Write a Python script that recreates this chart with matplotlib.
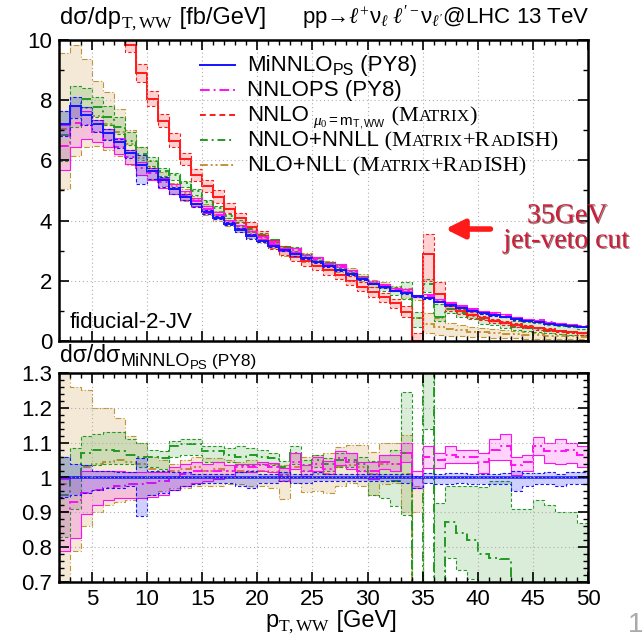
import numpy as np
import matplotlib
matplotlib.use("Agg")
import matplotlib.pyplot as plt
import matplotlib.patheffects as pe
from matplotlib.lines import Line2D
from matplotlib.ticker import MultipleLocator, FuncFormatter

plt.rcParams["font.family"] = ["Liberation Sans", "DejaVu Sans"]
plt.rcParams["mathtext.fontset"] = "custom"
plt.rcParams["mathtext.rm"] = "Liberation Serif"
plt.rcParams["mathtext.it"] = "Liberation Serif:italic"
plt.rcParams["mathtext.bf"] = "Liberation Serif:bold"
plt.rcParams["mathtext.sf"] = "Liberation Sans"

# 1 GeV bins, pT from 2 to 50 GeV
bin_edges = np.arange(2, 51)

# MiNNLO_PS (PY8) central value, fb/GeV
minnlo_xs = [7.2, 7.8, 7.5, 7.2, 6.9, 6.6, 6.25, 5.85, 5.65, 5.35,
             5.05, 4.8, 4.55, 4.3, 4.1, 3.9, 3.7, 3.5, 3.33, 3.17,
             3.02, 2.88, 2.75, 2.62, 2.49, 2.36, 2.22, 2.05, 1.9, 1.78,
             1.67, 1.58, 1.5, 1.42, 1.31, 1.2, 1.1, 1.01, 0.93, 0.86,
             0.8, 0.74, 0.68, 0.63, 0.58, 0.54, 0.5, 0.46]

# ratios to MiNNLO_PS central value (scale band low / central / high)
minnlo_lo = [0.945, 0.95, 0.955, 0.965, 0.97, 0.97, 0.975, 0.89, 0.95, 0.955,
             0.965, 0.975, 0.98, 0.985, 0.985, 0.985, 0.975, 0.97, 0.985, 0.985,
             0.99, 0.985, 0.985, 0.99, 0.99, 0.99, 0.99, 0.99, 0.99, 0.99,
             0.99, 0.985, 0.97, 0.985, 0.98, 0.98, 0.985, 0.98, 0.98, 0.98,
             0.98, 0.96, 0.975, 0.98, 0.98, 0.975, 0.98, 0.98]
minnlo_hi = [1.06, 1.04, 1.035, 1.02, 1.02, 1.015, 1.015, 1.055, 1.02, 1.02,
             1.015, 1.015, 1.01, 1.01, 1.01, 1.01, 1.015, 1.02, 1.01, 1.01,
             1.015, 1.01, 1.01, 1.015, 1.01, 1.01, 1.01, 1.01, 1.01, 1.01,
             1.01, 1.01, 1.005, 1.012, 1.01, 1.012, 1.012, 1.01, 1.01, 1.01,
             1.012, 1.02, 1.012, 1.012, 1.015, 1.01, 1.015, 1.015]

nnlops_lo = [0.79, 0.825, 0.895, 0.92, 0.935, 0.94, 0.94, 0.94, 0.945, 0.95,
             0.965, 0.975, 0.985, 0.99, 0.995, 1.0, 1.015, 1.015, 1.02, 1.015,
             0.99, 1.025, 1.005, 1.02, 1.01, 1.035, 1.025, 1.0, 0.995, 1.025,
             1.02, 1.045, 0.97, 1.027, 1.027, 1.042, 1.042, 1.042, 1.013, 1.05,
             1.05, 1.008, 1.02, 1.065, 1.042, 1.04, 1.042, 1.03]
nnlops_mid = [0.9, 0.93, 0.955, 0.965, 0.97, 0.975, 0.98, 0.98, 0.985, 0.99,
              1.0, 1.01, 1.02, 1.02, 1.02, 1.02, 1.03, 1.03, 1.035, 1.03,
              1.005, 1.045, 1.02, 1.04, 1.025, 1.055, 1.045, 1.02, 1.02, 1.045,
              1.04, 1.07, 1.0, 1.06, 1.05, 1.065, 1.06, 1.06, 1.045, 1.08,
              1.09, 1.035, 1.045, 1.09, 1.075, 1.075, 1.08, 1.065]
nnlops_hi = [0.995, 1.0, 1.02, 1.02, 1.02, 1.02, 1.015, 1.015, 1.015, 1.015,
             1.03, 1.04, 1.045, 1.04, 1.045, 1.035, 1.04, 1.04, 1.045, 1.043,
             1.026, 1.07, 1.036, 1.06, 1.047, 1.077, 1.07, 1.045, 1.045, 1.064,
             1.064, 1.1, 1.02, 1.09, 1.07, 1.09, 1.08, 1.08, 1.07, 1.11,
             1.126, 1.06, 1.065, 1.115, 1.1, 1.11, 1.1, 1.09]

nnll_lo = [0.83, 0.91, 1.035, 1.035, 1.04, 1.04, 1.04, 1.03, 1.03, 1.025,
           1.06, 1.065, 1.065, 1.045, 1.045, 1.045, 1.035, 1.035, 1.04, 1.035,
           1.01, 1.04, 1.02, 1.03, 1.02, 1.03, 1.03, 1.02, 0.95, 0.94,
           0.917, 0.893, 0.3, 1.14, 0.5, 0.77, 0.735, 0.71, 0.6, 0.6,
           0.55, 0.5, 0.5, 0.45, 0.45, 0.45, 0.4, 0.4]
nnll_mid = [0.95, 1.0, 1.07, 1.08, 1.08, 1.075, 1.065, 1.06, 1.06, 1.055,
            1.09, 1.095, 1.095, 1.075, 1.075, 1.065, 1.06, 1.065, 1.06, 1.055,
            1.03, 1.07, 1.035, 1.05, 1.04, 1.05, 1.05, 1.04, 1.0, 1.0,
            0.99, 1.07, 0.5, 1.33, 0.6, 0.873, 0.84, 0.82, 0.78, 0.77,
            0.765, 0.65, 0.65, 0.62, 0.6, 0.6, 0.58, 0.56]
nnll_hi = [1.06, 1.085, 1.12, 1.125, 1.13, 1.13, 1.11, 1.1, 1.08, 1.075,
           1.105, 1.11, 1.11, 1.09, 1.09, 1.085, 1.09, 1.085, 1.08, 1.07,
           1.047, 1.09, 1.05, 1.065, 1.055, 1.07, 1.07, 1.06, 1.047, 1.064,
           1.08, 1.246, 0.65, 1.45, 0.926, 0.975, 0.975, 0.975, 0.972, 0.99,
           0.99, 0.91, 0.91, 0.935, 0.92, 0.9, 0.9, 0.87]

nll_lo = [0.70, 0.79, 0.86, 0.90, 0.92, 0.93, 0.935, 0.94, 0.95, 0.96,
          0.97, 0.97, 0.975, 0.975, 0.975, 0.98, 0.98, 0.975, 0.975, 0.97,
          0.937, 0.985, 0.958, 0.96, 0.955, 0.975, 0.985, 0.975, 0.95, 0.98,
          0.985, 0.9, 0.9, 0.19, 0.15, 0.14, 0.14, 0.14, 0.14, 0.13,
          0.13, 0.12, 0.12, 0.12, 0.12, 0.11, 0.11, 0.11]
nll_mid = [0.98, 1.0, 1.03, 1.04, 1.045, 1.05, 1.045, 1.04, 1.025, 1.02,
           1.02, 1.025, 1.03, 1.02, 1.025, 1.02, 1.02, 1.02, 1.02, 1.015,
           0.99, 1.03, 1.0, 1.01, 1.01, 1.03, 1.035, 1.03, 1.01, 1.04,
           1.04, 1.01, 0.5, 0.39, 0.36, 0.33, 0.32, 0.31, 0.32, 0.31,
           0.31, 0.3, 0.3, 0.3, 0.3, 0.3, 0.3, 0.3]
nll_hi = [1.33, 1.26, 1.25, 1.2, 1.2, 1.17, 1.12, 1.1, 1.06, 1.05,
          1.04, 1.05, 1.06, 1.055, 1.055, 1.05, 1.045, 1.05, 1.045, 1.04,
          1.035, 1.07, 1.06, 1.065, 1.07, 1.088, 1.093, 1.093, 1.074, 1.098,
          1.098, 1.122, 0.975, 0.65, 0.58, 0.5, 0.47, 0.46, 0.46, 0.45,
          0.45, 0.44, 0.44, 0.44, 0.43, 0.43, 0.43, 0.43]

# NNLO (MATRIX), absolute values in fb/GeV (only in the upper panel)
nnlo_lo = [13.5, 13.5, 13.0, 12.0, 11.0, 10.2, 9.6, 8.6, 7.8, 7.1,
           6.45, 5.85, 5.3, 4.95, 4.6, 4.25, 3.95, 3.65, 3.35, 3.05,
           2.85, 2.65, 2.5, 2.35, 2.2, 2.05, 1.85, 1.65, 1.45, 1.3,
           1.1, 0.8, 0.0, 2.0, 1.3, 1.0, 0.9, 0.78, 0.69, 0.61,
           0.54, 0.48, 0.42, 0.37, 0.33, 0.29, 0.25, 0.21]
nnlo_mid = [14.0, 14.0, 13.5, 12.5, 11.5, 10.7, 9.85, 8.9, 8.05, 7.3,
            6.65, 6.05, 5.5, 5.15, 4.8, 4.4, 4.1, 3.8, 3.5, 3.2,
            3.0, 2.8, 2.65, 2.5, 2.35, 2.2, 2.0, 1.8, 1.62, 1.45,
            1.25, 0.95, 0.0, 2.9, 1.55, 1.15, 1.0, 0.86, 0.76, 0.67,
            0.6, 0.53, 0.47, 0.42, 0.37, 0.33, 0.29, 0.25]
nnlo_hi = [14.5, 14.5, 14.0, 13.0, 12.0, 11.2, 10.1, 9.2, 8.3, 7.55,
           6.9, 6.25, 5.7, 5.35, 5.0, 4.6, 4.25, 3.95, 3.65, 3.35,
           3.15, 2.95, 2.8, 2.65, 2.5, 2.35, 2.15, 1.95, 1.78, 1.6,
           1.4, 1.15, 0.25, 3.55, 1.95, 1.3, 1.1, 0.95, 0.84, 0.74,
           0.66, 0.59, 0.52, 0.47, 0.42, 0.37, 0.33, 0.29]

SANS = ["Liberation Sans", "DejaVu Sans"]
SERIF = "Liberation Serif"
# legend labels as (text, size, family, vertical shift in px); small caps faked with smaller capitals
legend_rows = [
    [("MiNNLO", 16, SANS, 0), ("PS", 11.5, SANS, -4), (" (PY8)", 16, SANS, 0)],
    [("NNLOPS (PY8)", 16, SANS, 0)],
    [("NNLO", 16, SANS, 0), (r" $\mu_0\mathsf{=m}_{\mathsf{T,WW}}$", 11, SANS, -4),
     (" (M", 16, SERIF, 0), ("ATRIX", 12.5, SERIF, 0), (")", 16, SERIF, 0)],
    [("NNLO+NNLL", 16, SANS, 0), (" (M", 16, SERIF, 0), ("ATRIX", 12.5, SERIF, 0),
     ("+R", 16, SERIF, 0), ("AD", 12.5, SERIF, 0), ("ISH)", 16, SERIF, 0)],
    [("NLO+NLL", 16, SANS, 0), (" (M", 16, SERIF, 0), ("ATRIX", 12.5, SERIF, 0),
     ("+R", 16, SERIF, 0), ("AD", 12.5, SERIF, 0), ("ISH)", 16, SERIF, 0)],
]

c_blue, c_mag, c_red, c_green, c_gold = "#1414ff", "#ff10f0", "#ff1a1a", "#229922", "#c49434"
dash, dashdot, dashdotdot = (0, (3, 2)), (0, (5, 2, 1, 2)), (0, (4, 1.5, 1, 1.5, 1, 1.5))

mx = np.array(minnlo_xs)


def draw_band(ax, lo, mid, hi, color, edge_ls, mid_ls, alpha=0.18, lw_mid=1.4):
    ax.stairs(hi, bin_edges, baseline=lo, fill=True, color=color, alpha=alpha, lw=0)
    ax.stairs(lo, bin_edges, baseline=None, color=color, ls=edge_ls, lw=0.8)
    ax.stairs(hi, bin_edges, baseline=None, color=color, ls=edge_ls, lw=0.8)
    ax.stairs(mid, bin_edges, baseline=None, color=color, ls=mid_ls, lw=lw_mid)


fig = plt.figure(figsize=(6.43, 6.38), dpi=100)
W, H = 643, 638
renderer = fig.canvas.get_renderer()


def put_pieces(x_px, base_px, pieces, color="black"):
    # write text pieces one after another on a common baseline (figure pixels, y from top)
    x = x_px / W
    for txt, size, fam, dy in pieces:
        t = fig.text(x, 1 - (base_px - dy) / H, txt, fontsize=size, family=fam,
                     va="baseline", ha="left", color=color)
        x = fig.transFigure.inverted().transform((t.get_window_extent(renderer).x1, 0))[0]


ax1 = fig.add_axes([59 / W, 1 - 341 / H, 529 / W, 301 / H])
ax2 = fig.add_axes([59 / W, 1 - 582 / H, 529 / W, 209 / H])

# upper panel: absolute distributions
draw_band(ax1, np.array(nll_lo) * mx, np.array(nll_mid) * mx, np.array(nll_hi) * mx,
          c_gold, dashdot, dashdotdot, alpha=0.2)
draw_band(ax1, np.array(nnll_lo) * mx, np.array(nnll_mid) * mx, np.array(nnll_hi) * mx,
          c_green, dash, dashdot, alpha=0.17)
draw_band(ax1, nnlo_lo, nnlo_mid, nnlo_hi, c_red, dash, "-", alpha=0.2)
draw_band(ax1, np.array(nnlops_lo) * mx, np.array(nnlops_mid) * mx, np.array(nnlops_hi) * mx,
          c_mag, "-", dashdot, alpha=0.18)
draw_band(ax1, np.array(minnlo_lo) * mx, mx, np.array(minnlo_hi) * mx,
          c_blue, dash, "-", alpha=0.2)

# lower panel: ratio to MiNNLO_PS
draw_band(ax2, nll_lo, nll_mid, nll_hi, c_gold, dashdot, dashdotdot, alpha=0.2)
draw_band(ax2, nnll_lo, nnll_mid, nnll_hi, c_green, dash, dashdot, alpha=0.17)
draw_band(ax2, nnlops_lo, nnlops_mid, nnlops_hi, c_mag, "-", dashdot, alpha=0.18)
draw_band(ax2, minnlo_lo, mx / mx, minnlo_hi, c_blue, dash, "-", alpha=0.2, lw_mid=1.8)

for ax in (ax1, ax2):
    ax.set_xlim(2, 50)
    ax.xaxis.set_major_locator(MultipleLocator(5))
    ax.xaxis.set_minor_locator(MultipleLocator(1))
    ax.tick_params(which="both", direction="in", top=True, right=True, labelsize=16, pad=5)
    ax.tick_params(which="major", length=7, width=1.2)
    ax.tick_params(which="minor", length=3.5, width=1.0)
    ax.grid(True, which="major", color="#b0b0b0", ls=(0, (1, 2.5)), lw=0.8)
    for s in ax.spines.values():
        s.set_linewidth(1.8)

ax1.set_ylim(0, 10)
ax1.yaxis.set_major_locator(MultipleLocator(2))
ax1.yaxis.set_minor_locator(MultipleLocator(1))
ax1.tick_params(labelbottom=False)

ax2.set_ylim(0.7, 1.3)
ax2.yaxis.set_major_locator(MultipleLocator(0.1))
ax2.yaxis.set_minor_locator(MultipleLocator(0.02))
ax2.yaxis.set_major_formatter(FuncFormatter(lambda v, p: f"{v:g}"))

# legend drawn by hand: tight row spacing and mixed fonts of the original
leg_styles = [(c_blue, "-"), (c_mag, dashdot), (c_red, dash), (c_green, (0, (4, 2, 1, 2))),
              (c_gold, dashdotdot)]
for i, (pieces, (col, ls)) in enumerate(zip(legend_rows, leg_styles)):
    yc = 65 + 25 * i
    ax1.add_line(Line2D([(200 - 59) / 529, (235 - 59) / 529], [(341 - yc) / 301] * 2,
                        transform=ax1.transAxes, color=col, ls=ls, lw=1.4))
    put_pieces(247, yc + 6, pieces)

ax1.text(11 / 529, 19 / 301, "fiducial-2-JV", transform=ax1.transAxes, va="center", fontsize=16)

ax1.annotate("", xy=(36.8, 3.72), xytext=(41.4, 3.72),
             arrowprops=dict(arrowstyle="-|>", color=c_red, lw=4, mutation_scale=28))
red_txt = "#d01d38"
shadow = [pe.withSimplePatchShadow(offset=(0.8, -0.8), shadow_rgbFace="#300000", alpha=0.55)]
fig.text(567 / W, 1 - 216 / H, "35GeV", family=SERIF, fontsize=20, color=red_txt,
         ha="center", va="center", path_effects=shadow)
fig.text(566 / W, 1 - 241 / H, "jet-veto cut", family=SERIF, fontsize=20, color=red_txt,
         ha="center", va="center", path_effects=shadow)

put_pieces(60, 24, [("dσ/dp", 17, SANS, 0), (r"$\mathrm{T,WW}$", 12.5, SANS, -4),
                    (" [fb/GeV]", 17, SANS, 0)])
fig.text(590 / W, 1 - 18 / H,
         r"pp→$\ell^{+}\mathsf{\nu}_{\ell}\ \ell^{\prime -}\mathsf{\nu}_{\ell^{\prime}}$@LHC 13 TeV",
         fontsize=16, va="center", ha="right")
put_pieces(60, 362, [("dσ/dσ", 16.5, SANS, 0), ("MiNNLO", 13, SANS, -4), ("PS", 9.5, SANS, -7),
                     (" (PY8)", 12.5, SANS, -4)])
put_pieces(265, 627, [("p", 17, SANS, 0), (r"$\mathrm{T,WW}$", 12.5, SANS, -4),
                      (" [GeV]", 17, SANS, 0)])
fig.text(636 / W, 1 - 625 / H, "1", fontsize=20, color="#aaaaaa", va="center", ha="center")

fig.savefig("out.png", dpi=100)
